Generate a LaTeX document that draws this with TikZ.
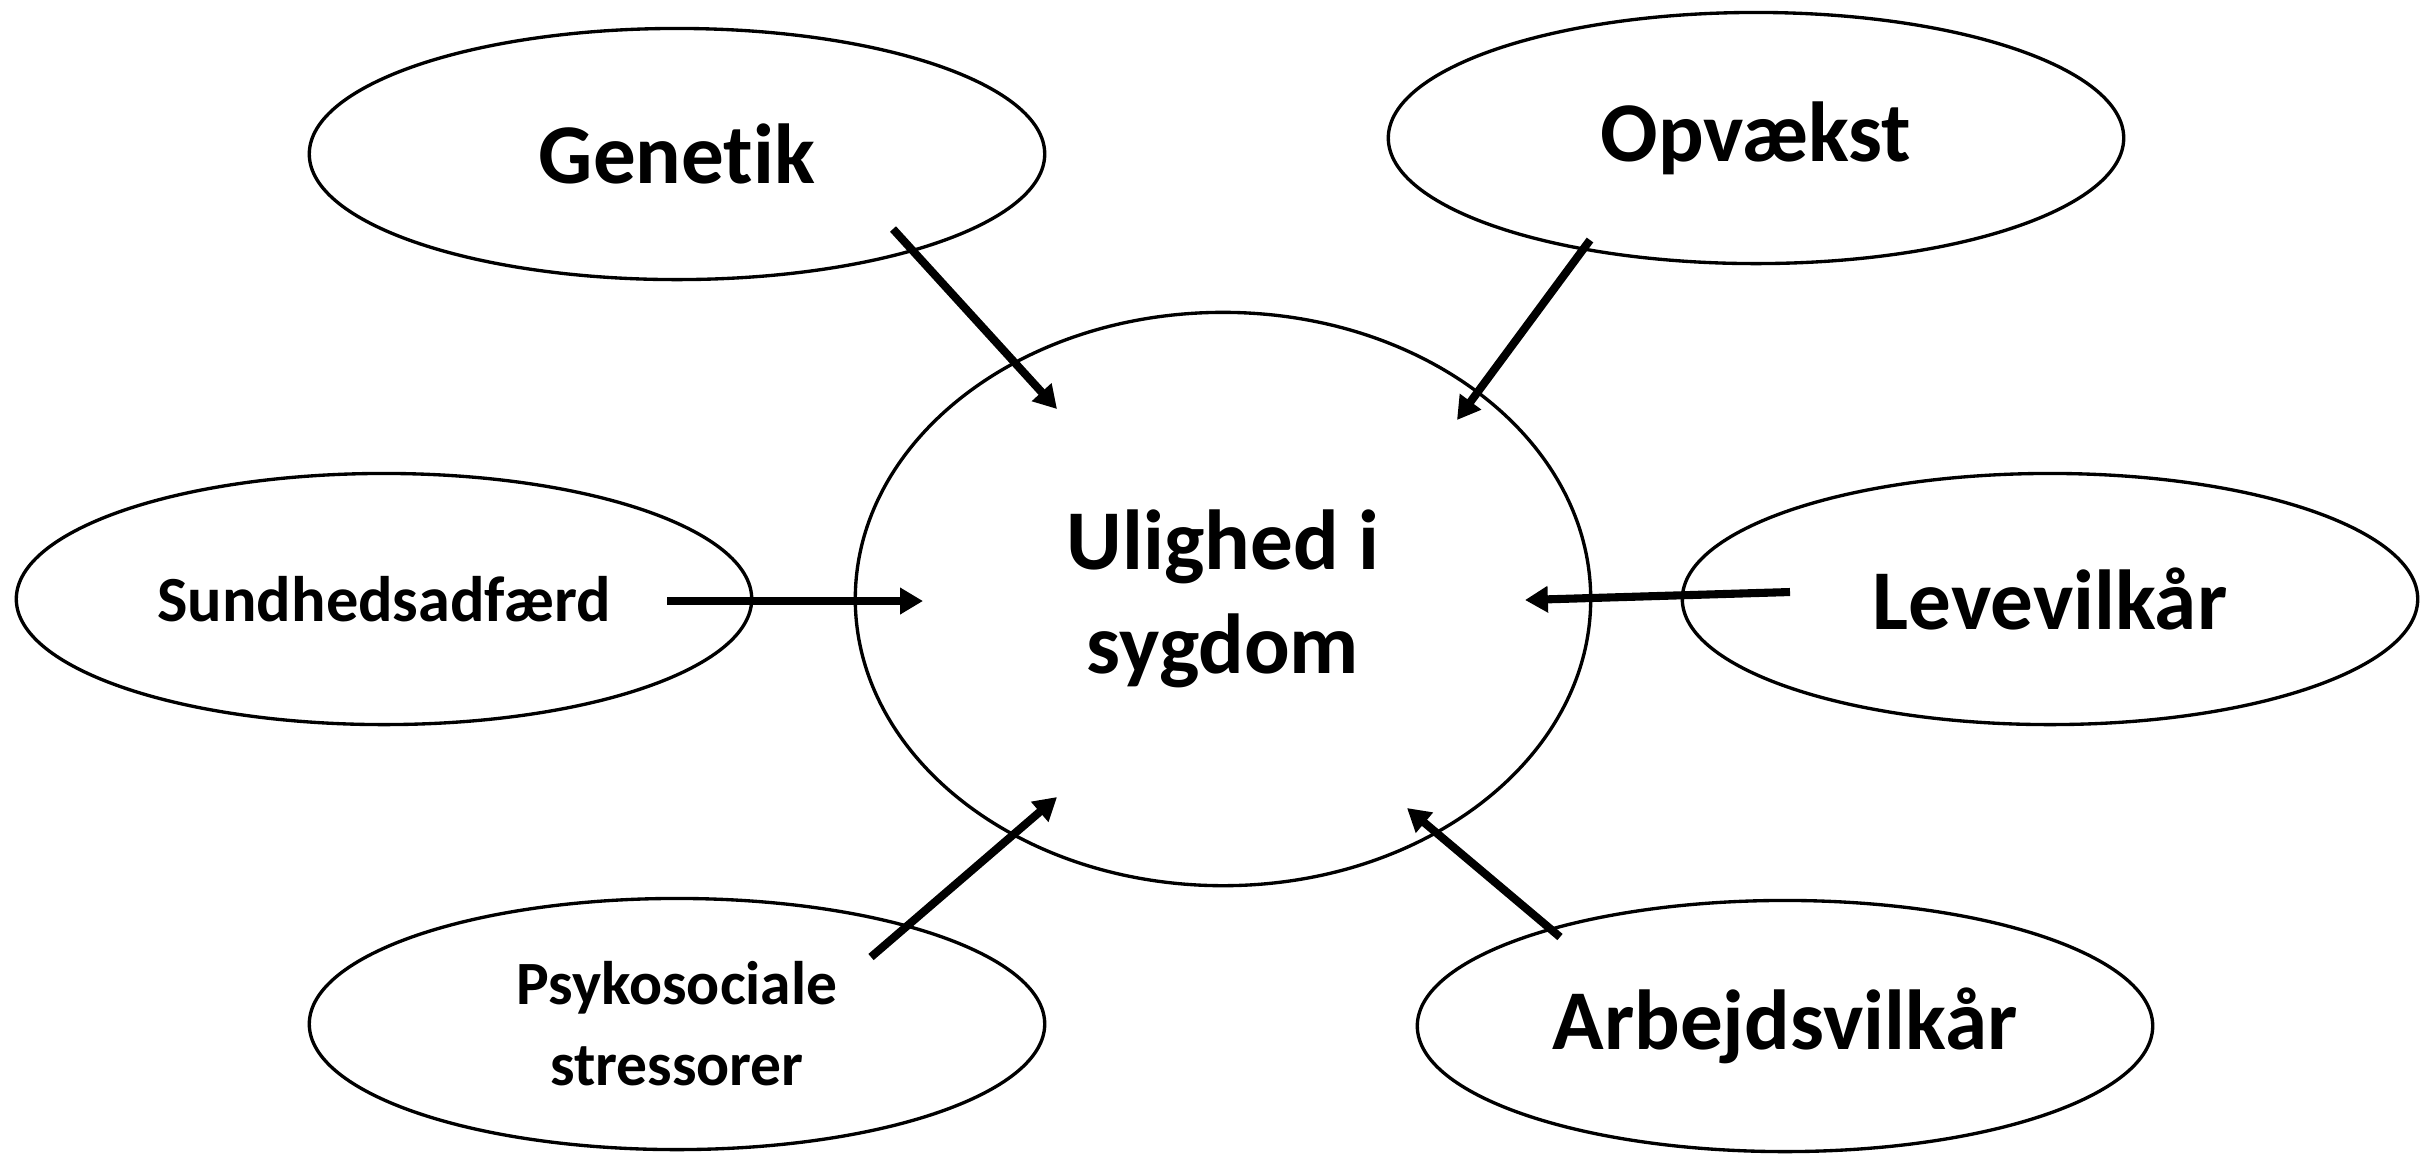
\documentclass[tikz,border=0pt]{standalone}
\usepackage{fontspec}
\setmainfont{Carlito}[Ligatures=NoCommon]
\usetikzlibrary{arrows.meta,shapes.geometric}

\begin{document}
\begin{tikzpicture}[x=0.01cm, y=-0.01cm,
  boble/.style={draw, ellipse, line width=0.95pt, inner sep=0pt,
    minimum width=7.35cm, minimum height=2.51cm},
  stor/.style={font=\bfseries\fontsize{24.2}{29.6}\selectfont, align=center},
  lille/.style={font=\bfseries\fontsize{17.5}{23}\selectfont, align=center},
  pil/.style={line width=2.3pt, -{Triangle[length=6.5pt,width=7.2pt]}}]
  \useasboundingbox (0,0) rectangle (2433,1153);
  \node[boble, stor, minimum height=5.73cm] (ulighed) at (1223,599) {Ulighed i\\sygdom};
  \node[boble, stor] (genetik) at (677,154) {Genetik};
  \node[boble, stor] (opvaekst) at (1756,138) {Opvækst};
  \node[boble, lille, font=\bfseries\fontsize{18.3}{23}\selectfont] (sundhed) at (384,599) {Sundhedsadfærd};
  \node[boble, stor] (levevilkaar) at (2050,599) {Levevilkår};
  \node[boble, lille] (psyko) at (677,1024) {Psykosociale\\stressorer};
  \node[boble, stor] (arbejde) at (1785,1026) {Arbejdsvilkår};
  \coordinate (gen-a) at (893,229);
  \coordinate (gen-b) at (1057,409);
  \coordinate (opv-a) at (1590,240);
  \coordinate (opv-b) at (1457,420);
  \coordinate (sun-a) at (667,601);
  \coordinate (sun-b) at (923,601);
  \coordinate (lev-a) at (1790,592);
  \coordinate (lev-b) at (1525,600);
  \coordinate (psy-a) at (871,957);
  \coordinate (psy-b) at (1057,797);
  \coordinate (arb-a) at (1560,937);
  \coordinate (arb-b) at (1407,808);
  \draw[pil] (gen-a) -- (gen-b);
  \draw[pil] (opv-a) -- (opv-b);
  \draw[pil] (sun-a) -- (sun-b);
  \draw[pil] (lev-a) -- (lev-b);
  \draw[pil] (psy-a) -- (psy-b);
  \draw[pil] (arb-a) -- (arb-b);
\end{tikzpicture}
\end{document}
